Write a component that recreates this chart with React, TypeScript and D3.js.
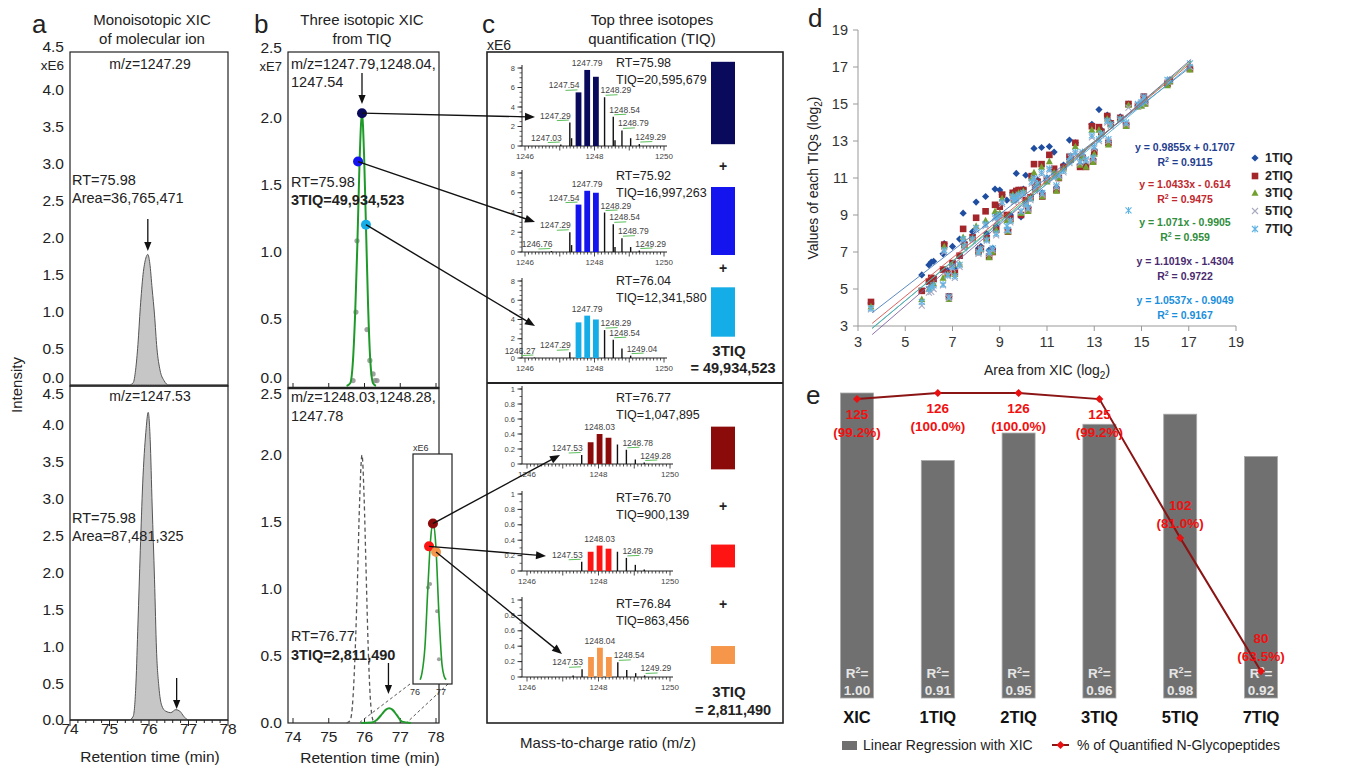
import React from "react";
import * as d3 from "d3";

const SANS = "'Liberation Sans', Arial, Helvetica, sans-serif";

// ===== Panel a: monoisotopic XIC (xE6) =====
const aTopRt = [74, 75.5, 75.6, 75.66, 75.72, 75.78, 75.85, 75.92, 75.97, 76.02, 76.08, 76.14, 76.2, 76.28, 76.38, 76.5, 78];
const aTopInt = [0, 0, 0.03, 0.2, 0.55, 1.05, 1.5, 1.72, 1.77, 1.65, 1.3, 0.95, 0.5, 0.2, 0.06, 0, 0];
const aBotRt = [74, 75.5, 75.6, 75.67, 75.72, 75.78, 75.84, 75.92, 75.98, 76.03, 76.08, 76.14, 76.19, 76.25, 76.32, 76.42, 76.55, 76.68, 76.78, 76.88, 77.0, 78];
const aBotInt = [0, 0, 0.05, 0.5, 1.3, 2.3, 3.2, 3.9, 4.17, 3.8, 2.9, 1.9, 0.95, 0.45, 0.2, 0.12, 0.1, 0.14, 0.12, 0.05, 0, 0];
const aYTicks = [0, 0.5, 1, 1.5, 2, 2.5, 3, 3.5, 4, 4.5];
const rtTicks = [74, 75, 76, 77, 78];

// ===== Panel b: three isotopic XIC from TIQ (xE7) =====
const bFitRt = [75.5, 75.6, 75.68, 75.74, 75.8, 75.86, 75.93, 75.99, 76.04, 76.1, 76.16, 76.24, 76.32];
const bFitInt = [0, 0.02, 0.2, 0.55, 1.05, 1.65, 2.03, 1.7, 1.2, 0.6, 0.2, 0.02, 0];
const bGrayRt = [75.68, 75.76, 75.79, 76.07, 76.15, 76.24, 76.29, 76.35];
const bGrayInt = [0.04, 0.55, 1.08, 0.42, 0.19, 0.09, 0.04, 0.04];
const bIsoTopRt = [75.93, 75.82, 76.04];
const bIsoTopInt = [2.03, 1.67, 1.2];
const bSmallRt = [75.9, 76.2, 76.35, 76.5, 76.6, 76.69, 76.78, 76.9, 77.05, 77.3];
const bSmallInt = [0, 0.003, 0.025, 0.07, 0.1, 0.11, 0.1, 0.06, 0.01, 0];
const insetRt = [76.2, 76.27, 76.38, 76.5, 76.6, 76.69, 76.8, 76.92, 77.04, 77.12, 77.2];
const insetInt = [0.02, 0.08, 0.3, 0.85, 1.25, 1.4, 1.2, 0.6, 0.15, 0.05, 0.02];
const insetGrayRt = [76.5, 76.58, 76.85, 76.92];
const insetGrayInt = [0.83, 0.86, 0.62, 0.2];
const bIsoInsetRt = [76.69, 76.54, 76.81];
const bIsoInsetInt = [1.39, 1.19, 1.14];
const bYTicks = [0, 0.5, 1, 1.5, 2, 2.5];

// ===== Panel c: spectra =====
const topColors = ["#0a0a5c", "#1414ee", "#14ade8"];
const botColors = ["#8b0a0a", "#ff1414", "#f5964a"];
const sp1Mz = [1247.03, 1247.29, 1247.34, 1248.29, 1248.54, 1248.59, 1248.79, 1249.04, 1249.29];
const sp1Int = [0.15, 2.4, 0.8, 5.0, 3.0, 0.6, 1.6, 0.8, 0.2];
const sp1IsoMz = [1247.54, 1247.79, 1248.04];
const sp1IsoInt = [5.5, 7.8, 7.1];
const sp1Labels = ["1247.03", "1247.29", "1247.54", "1247.79", "1248.29", "1248.54", "1248.79", "1249.29"];
const sp2Mz = [1246.76, 1247.29, 1247.34, 1248.29, 1248.54, 1248.59, 1248.79, 1249.04, 1249.29];
const sp2Int = [0.1, 2.0, 0.7, 4.0, 2.8, 0.5, 1.4, 0.5, 0.15];
const sp2IsoMz = [1247.54, 1247.79, 1248.04];
const sp2IsoInt = [4.8, 6.2, 6.0];
const sp2Labels = ["1246.76", "1247.29", "1247.54", "1247.79", "1248.29", "1248.54", "1248.79", "1249.29"];
const sp3Mz = [1246.27, 1247.29, 1248.29, 1248.54, 1248.79, 1249.04];
const sp3Int = [0.05, 0.6, 2.9, 1.9, 1.0, 0.25];
const sp3IsoMz = [1247.54, 1247.79, 1248.04];
const sp3IsoInt = [3.7, 4.4, 4.0];
const sp3Labels = ["1246.27", "1247.29", "1247.79", "1248.29", "1248.54", "1249.04"];
const sp4Mz = [1247.53, 1248.53, 1248.78, 1249.03, 1249.28];
const sp4Int = [0.12, 0.26, 0.19, 0.06, 0.02];
const sp4IsoMz = [1247.78, 1248.03, 1248.28];
const sp4IsoInt = [0.29, 0.4, 0.35];
const sp4Labels = ["1247.53", "1248.03", "1248.78", "1249.28"];
const sp5Mz = [1247.53, 1248.53, 1248.78, 1249.03, 1249.28];
const sp5Int = [0.12, 0.25, 0.17, 0.08, 0.02];
const sp5IsoMz = [1247.78, 1248.03, 1248.28];
const sp5IsoInt = [0.25, 0.33, 0.29];
const sp5Labels = ["1247.53", "1248.03", "1248.79"];
const sp6Mz = [1247.29, 1247.54, 1248.54, 1248.79, 1249.04, 1249.29];
const sp6Int = [0.02, 0.1, 0.19, 0.09, 0.05, 0.02];
const sp6IsoMz = [1247.79, 1248.04, 1248.29];
const sp6IsoInt = [0.26, 0.38, 0.26];
const sp6Labels = ["1247.53", "1248.04", "1248.54", "1249.29"];
const specRT = ["75.98", "75.92", "76.04", "76.77", "76.70", "76.84"];
const specTIQ = [20595679, 16997263, 12341580, 1047895, 900139, 863456];
const sumTIQ = ["49,934,523", "2,811,490"];

// ===== Panel d: scatter (log2) =====
const xicLog2 = [3.55,5.7,6.0,6.1,6.2,6.6,6.65,6.85,6.8,7.0,7.1,7.3,7.45,7.5,7.85,8.0,8.1,8.2,8.4,8.45,8.55,8.7,8.8,8.85,9.0,9.1,9.3,9.45,9.55,9.7,9.8,9.9,10.0,10.1,10.2,10.35,10.45,10.5,10.77,10.8,11.1,11.3,11.4,11.7,11.95,12.2,12.4,12.65,12.9,12.95,13.0,13.2,13.55,13.6,14.1,14.35,14.45,14.85,15.1,15.15,16.1,17.05,9.6,10.3,10.6,11.0,11.5,12.0,12.5,13.3,13.7,15.0,16.2,8.9,9.35];
const tiq1 = [4.25,5.76,6.3,6.45,6.5,6.9,7.45,4.6,6.0,7.3,6.1,7.7,9.1,7.5,8.1,9.7,7.2,7.3,10.0,8.0,7.1,7.2,10.4,8.4,10.35,10.1,9.8,9.0,10.2,11.25,10.35,8.9,10.4,11.15,9.4,11.1,12.6,10.6,12.65,10.2,12.7,12.4,10.5,11.7,13.05,12.9,11.7,11.7,13.9,12.0,12.5,14.7,14.4,12.9,14.3,13.9,15.0,14.9,15.4,15.1,16.1,16.9,10.0,10.0,10.9,11.0,11.0,12.1,12.2,13.6,14.0,15.0,16.3,9.0,8.2];
const tiq2 = [4.3,4.9,5.4,5.6,5.55,6.05,7.4,4.6,5.85,6.4,5.9,6.8,8.25,7.4,7.8,8.85,7.0,7.2,9.2,7.75,6.75,7.0,9.55,8.2,9.45,10.1,9.0,8.8,10.2,10.3,10.35,9.0,10.35,9.8,9.3,11.1,11.75,10.5,11.75,10.0,12.25,11.5,10.35,11.6,12.15,12.9,11.6,11.6,13.8,11.9,12.4,13.75,14.35,12.9,14.25,13.85,15.0,14.9,15.4,15.05,16.1,16.9,9.9,9.95,10.8,10.9,11.0,12.0,12.1,13.5,13.95,15.0,16.25,9.0,8.1];
const tiq3 = [4.05,4.45,5.0,5.2,5.3,5.6,7.3,4.45,5.8,6.3,5.8,6.35,7.8,7.35,7.75,8.4,7.0,7.15,8.7,7.7,6.7,7.0,9.2,8.2,9.1,9.9,8.7,8.7,10.1,10.0,10.2,9.1,10.3,9.6,9.2,11.0,11.3,10.4,11.6,10.0,11.9,11.3,10.3,11.5,12.0,12.7,11.7,11.6,13.6,11.85,12.3,13.6,14.2,12.8,14.2,13.8,14.95,14.85,15.3,15.0,16.0,16.85,9.8,9.9,10.7,10.8,11.0,12.0,12.1,13.4,13.9,14.9,16.2,9.0,8.1];
const tiq5 = [3.9,4.1,4.8,4.85,5.0,5.2,7.0,4.5,5.7,6.1,5.6,6.2,7.6,7.2,7.6,8.2,6.9,7.1,8.4,7.6,6.9,7.1,8.8,7.9,8.9,9.6,8.2,8.6,9.9,9.8,10.0,9.2,10.1,9.5,9.3,10.7,10.9,10.3,11.2,10.1,11.4,11.0,10.5,11.3,11.8,12.3,11.8,11.9,13.2,12.0,12.6,13.0,14.0,13.0,14.1,13.9,14.8,14.9,15.3,15.1,16.2,17.0,9.7,9.8,10.6,10.9,11.1,12.1,12.3,13.3,13.8,15.0,16.3,8.6,8.15];
const tiq7 = [3.95,4.3,5.0,5.1,5.2,5.25,7.1,4.6,5.75,6.2,5.7,6.3,7.7,7.3,7.7,8.3,7.0,7.2,8.5,7.65,7.0,7.2,8.9,8.0,9.0,9.7,8.4,8.7,10.0,9.9,10.1,9.2,10.2,9.6,9.4,10.8,11.0,10.4,11.3,10.2,11.5,11.1,10.6,11.4,11.9,12.4,11.9,12.0,13.3,12.1,12.7,13.1,14.1,13.1,14.2,14.0,9.25,15.0,15.4,15.2,16.3,17.2,9.8,9.9,10.7,11.0,11.2,12.2,12.4,13.4,13.9,15.1,16.3,8.7,8.2];
const seriesNames = ["1TIQ", "2TIQ", "3TIQ", "5TIQ", "7TIQ"];
const regSlope = [0.9855, 1.0433, 1.071, 1.1019, 1.0537];
const regIntercept = [0.1707, -0.614, -0.9905, -1.4304, -0.9049];
const regR2 = ["0.9115", "0.9475", "0.959", "0.9722", "0.9167"];
const dTicks = [3, 5, 7, 9, 11, 13, 15, 17, 19];

// ===== Panel e =====
const eCats = ["XIC", "1TIQ", "2TIQ", "3TIQ", "5TIQ", "7TIQ"];
const eR2 = [1.0, 0.9115, 0.9475, 0.959, 0.9722, 0.9167];
const eR2Label = ["1.00", "0.91", "0.95", "0.96", "0.98", "0.92"];
const eCount = [125, 126, 126, 125, 102, 80];
const ePct = [99.2, 100.0, 100.0, 99.2, 81.0, 63.5];

// ---------- shared scales ----------
const ax = d3.scaleLinear().domain([74, 78]).range([70, 228]);
const ayT = d3.scaleLinear().domain([0, 4.5]).range([385, 53]);
const ayB = d3.scaleLinear().domain([0, 4.5]).range([720, 388]);
const bx = d3.scaleLinear().domain([74, 78]).range([293, 436]);
const byT = d3.scaleLinear().domain([0, 2.5]).range([386, 50]);
const byB = d3.scaleLinear().domain([0, 2.5]).range([723, 388]);
const insX = d3.scaleLinear().domain([76, 77]).range([415, 441]);
const insY = d3.scaleLinear().domain([0, 2]).range([682, 454]);

function headPath(x1, y1, x2, y2, len = 9, w = 3.6) {
  const dx = x2 - x1, dy = y2 - y1;
  const L = Math.hypot(dx, dy);
  const ux = dx / L, uy = dy / L;
  const bxp = x2 - ux * len, byp = y2 - uy * len;
  return `M${x2},${y2}L${bxp - uy * w},${byp + ux * w}L${bxp + uy * w},${byp - ux * w}Z`;
}
function Arrow({ x1, y1, x2, y2, sw = 1.3, len = 9, w = 3.6 }) {
  const dx = x2 - x1, dy = y2 - y1;
  const L = Math.hypot(dx, dy);
  return (
    <g>
      <line x1={x1} y1={y1} x2={x2 - (dx / L) * len * 0.7} y2={y2 - (dy / L) * len * 0.7} stroke="#111" strokeWidth={sw} />
      <path d={headPath(x1, y1, x2, y2, len, w)} fill="#111" />
    </g>
  );
}

const f1 = d3.format(".1f");

function PanelA() {
  const areaT = d3.area().x((_, i) => ax(aTopRt[i])).y0(ayT(0)).y1((d) => ayT(d)).curve(d3.curveMonotoneX);
  const areaB = d3.area().x((_, i) => ax(aBotRt[i])).y0(ayB(0)).y1((d) => ayB(d)).curve(d3.curveMonotoneX);
  const minor = d3.range(74, 78.001, 0.2);
  return (
    <g>
      <text x={32} y={33} fontSize={26}>a</text>
      <text x={152} y={25} textAnchor="middle" fontSize={15}>Monoisotopic XIC</text>
      <text x={152} y={44} textAnchor="middle" fontSize={15}>of molecular ion</text>
      <text transform="translate(22,385) rotate(-90)" textAnchor="middle" fontSize={15}>Intensity</text>
      <path d={areaT(aTopInt)} fill="#c6c6c6" stroke="#555" strokeWidth={1} />
      <path d={areaB(aBotInt)} fill="#c6c6c6" stroke="#555" strokeWidth={1} />
      <rect x={70} y={52} width={158} height={334} fill="none" stroke="#222" strokeWidth={1.2} />
      <rect x={70} y={386} width={158} height={334} fill="none" stroke="#222" strokeWidth={1.2} />
      {aYTicks.map((v) => (
        <text key={"t" + v} x={64} y={v === 4.5 ? 47 : v === 0 ? 378 : ayT(v)} dy="0.35em" textAnchor="end" fontSize={15.5}>{f1(v)}</text>
      ))}
      <text x={64} y={65} dy="0.35em" textAnchor="end" fontSize={13.5}>xE6</text>
      {aYTicks.map((v) => (
        <text key={"b" + v} x={64} y={v === 4.5 ? 394 : ayB(v)} dy="0.35em" textAnchor="end" fontSize={15.5}>{f1(v)}</text>
      ))}
      {minor.map((v, i) => (
        <line key={i} x1={ax(v)} x2={ax(v)} y1={720} y2={720 + (i % 5 === 0 ? 6 : 3)} stroke="#222" strokeWidth={1} />
      ))}
      {rtTicks.map((v) => (
        <text key={v} x={ax(v)} y={729} dy="0.35em" textAnchor="middle" fontSize={15.5}>{v}</text>
      ))}
      <text x={150} y={762} textAnchor="middle" fontSize={15.5}>Retention time (min)</text>
      <text x={150} y={69} textAnchor="middle" fontSize={14}>m/z=1247.29</text>
      <text x={72} y={185} fontSize={14.5}>RT=75.98</text>
      <text x={72} y={203} fontSize={14.5}>Area=36,765,471</text>
      <Arrow x1={ax(75.97)} y1={219} x2={ax(75.97)} y2={251} />
      <text x={150} y={401} textAnchor="middle" fontSize={14}>m/z=1247.53</text>
      <text x={72} y={523} fontSize={14.5}>RT=75.98</text>
      <text x={72} y={541} fontSize={14.5}>Area=87,481,325</text>
      <Arrow x1={ax(76.7)} y1={678} x2={ax(76.7)} y2={709} />
    </g>
  );
}

function PanelB() {
  const lineT = d3.line().x((_, i) => bx(bFitRt[i])).y((d) => byT(d)).curve(d3.curveMonotoneX);
  const lineDash = d3.line().x((_, i) => bx(bFitRt[i])).y((d) => byB(d * 0.985)).curve(d3.curveMonotoneX);
  const lineSmall = d3.line().x((_, i) => bx(bSmallRt[i])).y((d) => byB(d)).curve(d3.curveMonotoneX);
  const lineInset = d3.line().x((_, i) => insX(insetRt[i])).y((d) => insY(d)).curve(d3.curveMonotoneX);
  return (
    <g>
      <text x={254} y={33} fontSize={26}>b</text>
      <text x={362} y={25} textAnchor="middle" fontSize={15}>Three isotopic XIC</text>
      <text x={362} y={44} textAnchor="middle" fontSize={15}>from TIQ</text>
      <rect x={288} y={52} width={151} height={336} fill="none" stroke="#222" strokeWidth={1.2} />
      <rect x={288} y={388} width={151} height={335} fill="none" stroke="#222" strokeWidth={1.2} />
      <line x1={288} x2={439} y1={388} y2={388} stroke="#222" strokeWidth={2.5} />
      {bYTicks.map((v) => (
        <text key={"t" + v} x={282} y={v === 2.5 ? 48 : v === 0 ? 378 : byT(v)} dy="0.35em" textAnchor="end" fontSize={15.5}>{f1(v)}</text>
      ))}
      <text x={282} y={66} dy="0.35em" textAnchor="end" fontSize={13}>xE7</text>
      {bYTicks.map((v) => (
        <text key={"b" + v} x={282} y={v === 2.5 ? 394 : byB(v)} dy="0.35em" textAnchor="end" fontSize={15.5}>{f1(v)}</text>
      ))}
      {rtTicks.map((v) => (
        <g key={v}>
          <line x1={bx(v)} x2={bx(v)} y1={388} y2={383} stroke="#222" />
          <line x1={bx(v)} x2={bx(v)} y1={723} y2={718} stroke="#222" />
          <text x={bx(v)} y={737} dy="0.35em" textAnchor="middle" fontSize={15.5}>{v}</text>
        </g>
      ))}
      <text x={370} y={763} textAnchor="middle" fontSize={15.5}>Retention time (min)</text>
      {bGrayRt.map((r, i) => (
        <circle key={i} cx={bx(r)} cy={byT(bGrayInt[i])} r={2.6} fill="#8a8a8a" opacity={0.8} />
      ))}
      <path d={lineT(bFitInt)} fill="none" stroke="#1f9a2a" strokeWidth={2} />
      {bIsoTopRt.map((r, i) => (
        <circle key={i} cx={bx(r)} cy={byT(bIsoTopInt[i])} r={5} fill={topColors[i]} />
      ))}
      <text x={291} y={69} fontSize={14.5}>m/z=1247.79,1248.04,</text>
      <text x={291} y={87} fontSize={14.5}>1247.54</text>
      <Arrow x1={bx(75.93)} y1={73} x2={bx(75.93)} y2={104} />
      <text x={291} y={187} fontSize={14.5}>RT=75.98</text>
      <text x={291} y={205} fontSize={14.5} fontWeight="bold">3TIQ=49,934,523</text>
      <path d={lineDash(bFitInt)} fill="none" stroke="#555" strokeWidth={1.3} strokeDasharray="4,3" />
      <path d={lineSmall(bSmallInt)} fill="none" stroke="#1f9a2a" strokeWidth={2} />
      <text x={291} y={402} fontSize={14.5}>m/z=1248.03,1248.28,</text>
      <text x={291} y={421} fontSize={14.5}>1247.78</text>
      <text x={291} y={641} fontSize={14.5}>RT=76.77</text>
      <text x={291} y={660} fontSize={14.5} fontWeight="bold">3TIQ=2,811,490</text>
      <Arrow x1={bx(76.67)} y1={663} x2={bx(76.67)} y2={694} />
      <line x1={410} y1={684} x2={bx(75.88)} y2={722} stroke="#555" strokeDasharray="3,2.5" />
      <line x1={448} y1={684} x2={bx(77.2)} y2={722} stroke="#555" strokeDasharray="3,2.5" />
      <rect x={413} y={454} width={39} height={230} fill="#fff" stroke="#222" strokeWidth={1.2} />
      <text x={413} y={451} fontSize={9} fill="#333">xE6</text>
      {insetGrayRt.map((r, i) => (
        <circle key={i} cx={insX(r)} cy={insY(insetGrayInt[i])} r={2} fill="#8a8a8a" opacity={0.8} />
      ))}
      <path d={lineInset(insetInt)} fill="none" stroke="#1f9a2a" strokeWidth={1.6} />
      {bIsoInsetRt.map((r, i) => (
        <circle key={i} cx={insX(r)} cy={insY(bIsoInsetInt[i])} r={5} fill={botColors[i]} />
      ))}
      {[76, 77].map((v) => (
        <text key={v} x={insX(v)} y={692} dy="0.35em" textAnchor="middle" fontSize={9} fill="#333">{v}</text>
      ))}
    </g>
  );
}

function Spectrum({ y0, yMax, max, step, minorStep, xr, mz, inten, isoMz, isoInt, color, labels, fmt }) {
  const x = d3.scaleLinear().domain([1246, 1250]).range(xr);
  const y = d3.scaleLinear().domain([0, max]).range([y0, yMax]);
  const majors = d3.range(0, max + 1e-9, step);
  const minors = d3.range(0, max + 1e-9, minorStep);
  const xMinor = d3.range(0, 41).map((i) => 1246 + i * 0.1);
  const allMz = [...mz, ...isoMz];
  const allInt = [...inten, ...isoInt];
  const center = isoMz[1];
  const xl = 522;
  const xe = xr[1] + 3;
  return (
    <g>
      <line x1={xl} x2={xl} y1={y0} y2={yMax - 3} stroke="#222" strokeWidth={1} />
      {minors.map((v, i) => (
        <line key={"m" + i} x1={xl - 2.5} x2={xl} y1={y(v)} y2={y(v)} stroke="#222" strokeWidth={0.7} />
      ))}
      {majors.map((v, i) => (
        <g key={"M" + i}>
          <line x1={xl - 4.5} x2={xl} y1={y(v)} y2={y(v)} stroke="#222" strokeWidth={0.9} />
          <text x={xl - 7} y={y(v)} dy="0.35em" textAnchor="end" fontSize={7.5} fill="#444">{fmt(v)}</text>
        </g>
      ))}
      <line x1={xl} x2={xe} y1={y0} y2={y0} stroke="#222" strokeWidth={1} />
      {xMinor.map((v, i) => (
        <line key={"x" + i} x1={x(v)} x2={x(v)} y1={y0} y2={y0 + (i % 10 === 0 ? 4.5 : 2.5)} stroke="#222" strokeWidth={0.8} />
      ))}
      {[1246, 1248, 1250].map((v) => (
        <text key={v} x={x(v)} y={y0 + 13} textAnchor="middle" fontSize={8} fill="#444">{v}</text>
      ))}
      {mz.map((m, i) => (
        <line key={"s" + i} x1={x(m)} x2={x(m)} y1={y0} y2={y(inten[i])} stroke="#111" strokeWidth={1.4} />
      ))}
      {isoMz.map((m, i) => (
        <rect key={"i" + i} x={x(m) - 2.9} width={5.8} y={y(isoInt[i])} height={y0 - y(isoInt[i])} fill={color} />
      ))}
      {labels.map((lab, k) => {
        const m = +lab;
        let best = 0;
        allMz.forEach((mm, i) => {
          if (Math.abs(mm - m) < Math.abs(allMz[best] - m)) best = i;
        });
        const px = x(allMz[best]);
        const py = y(allInt[best]);
        const side = Math.abs(m - center) < 0.05 ? "middle" : m < center ? "end" : "start";
        const tx = side === "middle" ? px : side === "end" ? px + 1 : px - 4;
        const ty = py - 4;
        return (
          <g key={"l" + k}>
            {side !== "middle" && (
              <line x1={side === "end" ? px - 13 : px + 1} x2={side === "end" ? px - 1 : px + 13} y1={py - 2} y2={py - 2.5} stroke="#5cbf5c" strokeWidth={1} />
            )}
            <text x={tx} y={ty} textAnchor={side} fontSize={8.5} fill="#444">{lab}</text>
          </g>
        );
      })}
    </g>
  );
}

function PanelC() {
  const fTop = (v) => String(v);
  const fBot = (v) => (v === 0 || v === 1 ? String(v) : d3.format(".1f")(v));
  const topH = d3.scaleLinear().domain([0, 21e6]).range([0, 84]);
  const botH = d3.scaleLinear().domain([0.73e6, 1.05e6]).range([0, 43]);
  const rectCenters = [103, 221, 312, 448, 556, 655];
  const rtY = [67, 180, 285, 402, 502, 608];
  const topXr = [525, 664];
  const botXr = [527, 670];
  const fmtN = d3.format(",");
  return (
    <g>
      <text x={482} y={33} fontSize={26}>c</text>
      <text x={652} y={25} textAnchor="middle" fontSize={15}>Top three isotopes</text>
      <text x={652} y={44} textAnchor="middle" fontSize={15}>quantification (TIQ)</text>
      <text x={487} y={50} fontSize={14}>xE6</text>
      <rect x={487} y={52} width={296} height={671} fill="none" stroke="#222" strokeWidth={1.6} />
      <line x1={487} x2={783} y1={383} y2={383} stroke="#222" strokeWidth={2} />
      <Spectrum y0={146} yMax={68} max={8} step={2} minorStep={0.5} xr={topXr} mz={sp1Mz} inten={sp1Int} isoMz={sp1IsoMz} isoInt={sp1IsoInt} color={topColors[0]} labels={sp1Labels} fmt={fTop} />
      <Spectrum y0={252} yMax={173} max={8} step={2} minorStep={0.5} xr={topXr} mz={sp2Mz} inten={sp2Int} isoMz={sp2IsoMz} isoInt={sp2IsoInt} color={topColors[1]} labels={sp2Labels} fmt={fTop} />
      <Spectrum y0={358} yMax={281} max={8} step={2} minorStep={0.5} xr={topXr} mz={sp3Mz} inten={sp3Int} isoMz={sp3IsoMz} isoInt={sp3IsoInt} color={topColors[2]} labels={sp3Labels} fmt={fTop} />
      <Spectrum y0={464} yMax={389} max={1} step={0.2} minorStep={0.1} xr={botXr} mz={sp4Mz} inten={sp4Int} isoMz={sp4IsoMz} isoInt={sp4IsoInt} color={botColors[0]} labels={sp4Labels} fmt={fBot} />
      <Spectrum y0={571} yMax={494} max={1} step={0.2} minorStep={0.1} xr={botXr} mz={sp5Mz} inten={sp5Int} isoMz={sp5IsoMz} isoInt={sp5IsoInt} color={botColors[1]} labels={sp5Labels} fmt={fBot} />
      <Spectrum y0={677} yMax={600} max={1} step={0.2} minorStep={0.1} xr={botXr} mz={sp6Mz} inten={sp6Int} isoMz={sp6IsoMz} isoInt={sp6IsoInt} color={botColors[2]} labels={sp6Labels} fmt={fBot} />
      {specTIQ.map((v, i) => {
        const h = i < 3 ? topH(v) : botH(v);
        const col = i < 3 ? topColors[i] : botColors[i - 3];
        return (
          <g key={i}>
            <text x={616} y={rtY[i]} fontSize={12.5}>RT={specRT[i]}</text>
            <text x={616} y={rtY[i] + 17} fontSize={12.5}>TIQ={fmtN(v)}</text>
            <rect x={711} y={rectCenters[i] - h / 2} width={24} height={h} fill={col} />
          </g>
        );
      })}
      {[166, 268, 506, 604].map((yy, i) => (
        <text key={i} x={723} y={yy} dy="0.35em" textAnchor="middle" fontSize={14} fontWeight="bold">+</text>
      ))}
      <text x={729} y={356} textAnchor="middle" fontSize={15} fontWeight="bold">3TIQ</text>
      <text x={733} y={373} textAnchor="middle" fontSize={14.5} fontWeight="bold">= {sumTIQ[0]}</text>
      <text x={729} y={697} textAnchor="middle" fontSize={15} fontWeight="bold">3TIQ</text>
      <text x={733} y={715} textAnchor="middle" fontSize={14.5} fontWeight="bold">= {sumTIQ[1]}</text>
      <text x={608} y={748} textAnchor="middle" fontSize={15}>Mass-to-charge ratio (m/z)</text>
    </g>
  );
}

const dColors = ["#1f4ea0", "#a3262a", "#72a02e", "#a9a9c2", "#5fb4e4"];
const dLineColors = ["#4a7ebb", "#d9534f", "#4fae4f", "#8064a2", "#4bb0d6"];
const eqColors = ["#1f3e8f", "#c0282d", "#2f8d3c", "#4a2b70", "#1a8fdc"];

function Marker({ kind, x, y, color }) {
  if (kind === 0) return <path d={`M${x},${y - 3.6}L${x + 3.6},${y}L${x},${y + 3.6}L${x - 3.6},${y}Z`} fill={color} />;
  if (kind === 1) return <rect x={x - 3.3} y={y - 3.3} width={6.6} height={6.6} fill={color} />;
  if (kind === 2) return <path d={`M${x},${y - 3.8}L${x + 3.5},${y + 2.8}L${x - 3.5},${y + 2.8}Z`} fill={color} />;
  if (kind === 3)
    return <path d={`M${x - 3},${y - 3}L${x + 3},${y + 3}M${x - 3},${y + 3}L${x + 3},${y - 3}`} stroke={color} strokeWidth={1.1} fill="none" />;
  return (
    <path d={`M${x - 3},${y - 3}L${x + 3},${y + 3}M${x - 3},${y + 3}L${x + 3},${y - 3}M${x},${y - 3.5}L${x},${y + 3.5}`} stroke={color} strokeWidth={1.1} fill="none" />
  );
}

function PanelD() {
  const x = d3.scaleLinear().domain([3, 19]).range([858, 1236]);
  const y = d3.scaleLinear().domain([3, 19]).range([326, 30]);
  const series = [tiq1, tiq2, tiq3, tiq5, tiq7];
  const eqY = [147, 184, 222, 261, 300];
  const legY = [158, 176, 193, 211, 229];
  return (
    <g>
      <text x={808} y={27} fontSize={26}>d</text>
      <line x1={858} x2={858} y1={30} y2={326} stroke="#999" />
      <line x1={858} x2={1236} y1={326} y2={326} stroke="#999" />
      {dTicks.map((v) => (
        <g key={v}>
          <line x1={853} x2={858} y1={y(v)} y2={y(v)} stroke="#999" />
          <text x={848} y={y(v)} dy="0.35em" textAnchor="end" fontSize={14.5} fill="#333">{v}</text>
          <line x1={x(v)} x2={x(v)} y1={326} y2={331} stroke="#999" />
          <text x={x(v)} y={342} dy="0.35em" textAnchor="middle" fontSize={14.5} fill="#333">{v}</text>
        </g>
      ))}
      <text transform="translate(818,178) rotate(-90)" textAnchor="middle" fontSize={14} fill="#222">
        Values of each TIQs (log<tspan fontSize={10} dy={4}>2</tspan><tspan dy={-4}>)</tspan>
      </text>
      <text x={1047} y={375} textAnchor="middle" fontSize={14} fill="#222">
        Area from XIC (log<tspan fontSize={10} dy={4}>2</tspan><tspan dy={-4}>)</tspan>
      </text>
      {series.map((s, k) => (
        <g key={k}>
          {s.map((v, i) => (
            <Marker key={i} kind={k} x={x(xicLog2[i])} y={y(v)} color={dColors[k]} />
          ))}
        </g>
      ))}
      {regSlope.map((m, k) => (
        <line key={k} x1={x(3.6)} y1={y(m * 3.6 + regIntercept[k])} x2={x(17.1)} y2={y(m * 17.1 + regIntercept[k])} stroke={dLineColors[k]} strokeWidth={1} opacity={0.9} />
      ))}
      {regSlope.map((m, k) => (
        <g key={k} fontWeight="bold" fontSize={10.5} fill={eqColors[k]}>
          <text x={1185} y={eqY[k]} dy="0.35em" textAnchor="middle">
            y = {m}x {regIntercept[k] >= 0 ? "+" : "-"} {Math.abs(regIntercept[k])}
          </text>
          <text x={1185} y={eqY[k] + 15} dy="0.35em" textAnchor="middle">
            R<tspan fontSize={7} dy={-4}>2</tspan><tspan dy={4}> = {regR2[k]}</tspan>
          </text>
        </g>
      ))}
      {seriesNames.map((n, k) => (
        <g key={n}>
          <Marker kind={k} x={1255} y={legY[k]} color={dColors[k]} />
          <text x={1265} y={legY[k]} dy="0.35em" fontSize={12.5} fontWeight="bold" fill="#222">{n}</text>
        </g>
      ))}
    </g>
  );
}

function PanelE() {
  const x = d3.scalePoint().domain(eCats).range([857, 1261]);
  const y = d3.scaleLinear().domain([0.6, 1.0]).range([698, 393]);
  const yp = d3.scaleLinear().domain([60, 100]).range([698, 393]);
  const bw = 33;
  const line = d3.line().x((_, i) => x(eCats[i])).y((d) => yp(d));
  return (
    <g>
      <text x={806} y={404} fontSize={26}>e</text>
      {eCats.map((c, i) => (
        <g key={c}>
          <rect x={x(c) - bw / 2} y={y(eR2[i])} width={bw} height={y(0.6) - y(eR2[i])} fill="#707070" stroke="#a8a8a8" strokeWidth={0.8} />
          <text x={x(c)} y={678} textAnchor="middle" fontSize={13.5} fontWeight="bold" fill="#e6e6e6">
            R<tspan fontSize={9} dy={-5}>2</tspan><tspan dy={5}>=</tspan>
          </text>
          <text x={x(c)} y={695} textAnchor="middle" fontSize={13.5} fontWeight="bold" fill="#e6e6e6">{eR2Label[i]}</text>
          <text x={x(c)} y={723} textAnchor="middle" fontSize={16.5} fontWeight="bold" fill="#111">{c}</text>
        </g>
      ))}
      <path d={line(ePct)} fill="none" stroke="#8b1414" strokeWidth={2} />
      {ePct.map((p, i) => {
        const cx = x(eCats[i]);
        const cy = yp(p);
        const below = p > 90;
        return (
          <g key={i}>
            <path d={`M${cx},${cy - 4}L${cx + 4},${cy}L${cx},${cy + 4}L${cx - 4},${cy}Z`} fill="#e81010" />
            <text x={cx} y={below ? cy + 20 : cy - 28} textAnchor="middle" fontSize={13.5} fontWeight="bold" fill="#f01010">{eCount[i]}</text>
            <text x={cx} y={below ? cy + 38 : cy - 10} textAnchor="middle" fontSize={13.5} fontWeight="bold" fill="#f01010">({p.toFixed(1)}%)</text>
          </g>
        );
      })}
      <rect x={842} y={741} width={15} height={9} fill="#707070" />
      <text x={863} y={750} fontSize={14} fill="#222">Linear Regression with XIC</text>
      <line x1={1052} x2={1069} y1={745} y2={745} stroke="#8b1414" strokeWidth={2} />
      <path d="M1060.5,741L1064.5,745L1060.5,749L1056.5,745Z" fill="#e81010" />
      <text x={1077} y={750} fontSize={14} fill="#222">% of Quantified N-Glycopeptides</text>
    </g>
  );
}

function Connectors() {
  const targets = [[535, 117], [535, 222], [535, 326], [560, 455], [546, 556], [562, 654]];
  const starts = [
    ...bIsoTopRt.map((r, i) => [bx(r), byT(bIsoTopInt[i])]),
    ...bIsoInsetRt.map((r, i) => [insX(r), insY(bIsoInsetInt[i])]),
  ];
  return (
    <g>
      {starts.map((s, i) => (
        <Arrow key={i} x1={s[0]} y1={s[1]} x2={targets[i][0]} y2={targets[i][1]} sw={1.4} len={10} w={4} />
      ))}
    </g>
  );
}

export default function App() {
  return (
    <svg width={1354} height={774} viewBox="0 0 1354 774" fontFamily={SANS} style={{ position: "absolute", left: 0, top: 0, background: "#fff" }}>
      <rect width={1354} height={774} fill="#fff" />
      <g fill="#222">
        <PanelA />
        <PanelB />
        <PanelC />
        <PanelD />
        <PanelE />
        <Connectors />
      </g>
    </svg>
  );
}
